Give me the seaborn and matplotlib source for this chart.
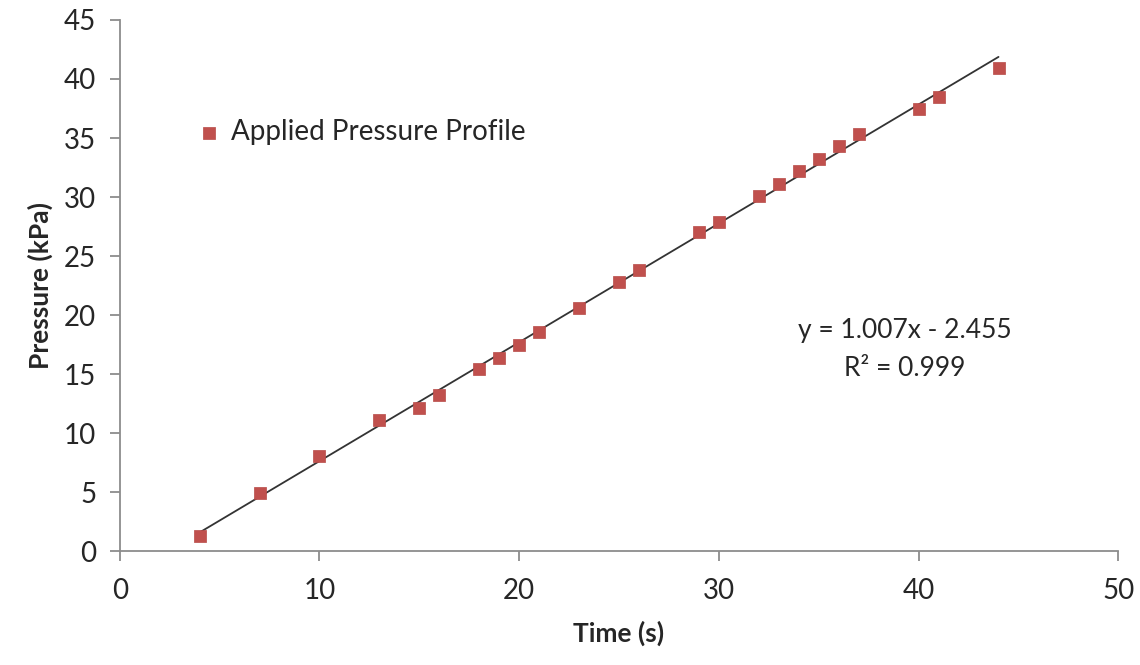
import numpy as np
import pandas as pd
import matplotlib.pyplot as plt
import seaborn as sns

# values
time_s = [4, 7, 10, 13, 15, 16, 18, 19, 20, 21, 23, 25, 26, 29, 30,
          32, 33, 34, 35, 36, 37, 40, 41, 44]
pressure_kpa = [1.3, 4.9, 8.1, 11.1, 12.1, 13.2, 15.4, 16.4, 17.5, 18.6, 20.6, 22.8, 23.8, 27.0, 27.9,
                30.1, 31.1, 32.2, 33.2, 34.3, 35.3, 37.5, 38.5, 40.9]
series_label = "Applied Pressure Profile"
fit_text = ["y = 1.007x - 2.455", "R\u00b2 = 0.999"]
x_ticks = [0, 10, 20, 30, 40, 50]
y_ticks = [0, 5, 10, 15, 20, 25, 30, 35, 40, 45]

df = pd.DataFrame({"time": time_s, "pressure": pressure_kpa})

sns.set_style("white")
plt.rcParams["font.family"] = ["Lato", "DejaVu Sans"]

fig, ax = plt.subplots(figsize=(11.4, 6.65), dpi=100)
fig.subplots_adjust(left=0.105, right=0.981, top=0.97, bottom=0.171)

# linear trendline
sns.regplot(data=df, x="time", y="pressure", scatter=False, ci=None, ax=ax,
            line_kws=dict(color="#333333", lw=1.3))
sns.scatterplot(data=df, x="time", y="pressure", ax=ax, marker="s", s=80,
                color="#C0504D", edgecolor="#B84A47", linewidth=0.5,
                label=series_label, zorder=3)

ax.set_xlim(0, 50)
ax.set_ylim(0, 45)
ax.set_xticks(x_ticks)
ax.set_yticks(y_ticks)

for side in ["top", "right"]:
    ax.spines[side].set_visible(False)
for side in ["left", "bottom"]:
    ax.spines[side].set_color("#8c8c8c")
    ax.spines[side].set_linewidth(1.3)
ax.tick_params(axis="both", direction="out", length=7, width=1.3, color="#8c8c8c",
               labelsize=20, labelcolor="#262626", bottom=True, left=True)
ax.tick_params(axis="x", pad=12)
ax.tick_params(axis="y", pad=10)

ax.set_xlabel("Time (s)", fontsize=19, fontweight="bold", labelpad=12)
ax.set_ylabel("Pressure (kPa)", fontsize=19, fontweight="bold", labelpad=8)

leg = ax.legend(loc="upper left", bbox_to_anchor=(0.053, 0.86), frameon=False,
                fontsize=20, handlelength=0.8, handletextpad=0.4, markerscale=1.0)

ax.text(39.3, 18.7, fit_text[0], ha="center", va="center", fontsize=19, color="#262626")
ax.text(39.3, 15.5, fit_text[1], ha="center", va="center", fontsize=19, color="#262626")

fig.savefig("out.png", dpi=100)
